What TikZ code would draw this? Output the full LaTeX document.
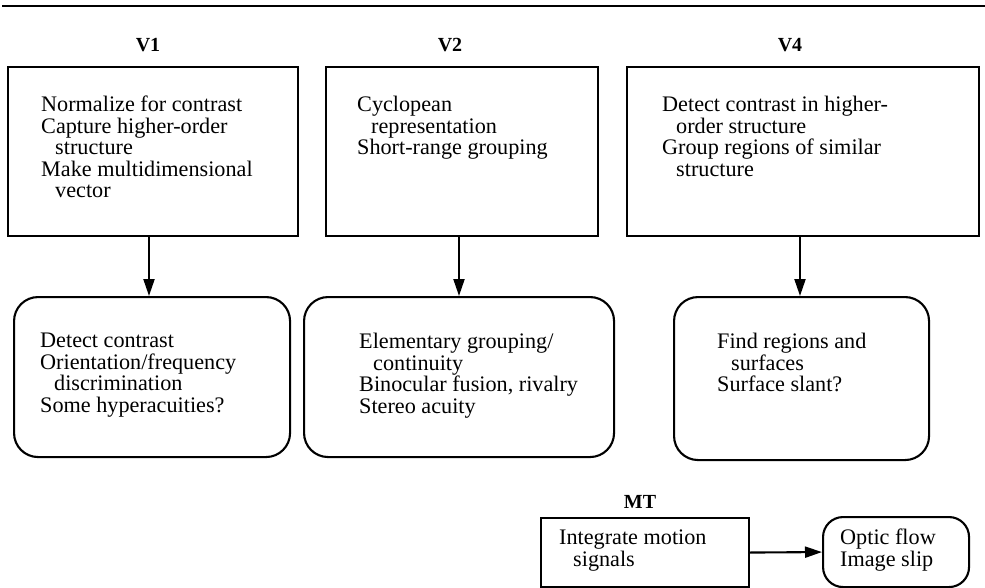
\documentclass[tikz,border=0pt]{standalone}
\usepackage{fontspec}
\setmainfont{Liberation Serif}
\usetikzlibrary{arrows.meta}
\newcommand{\ind}{\hspace*{14pt}}
\begin{document}
\begin{tikzpicture}[x=1pt,y=-1pt,
 box/.style={draw,line width=2.1pt,inner sep=0pt,anchor=north west},
 rbox/.style={box,rounded corners=24pt},
 txt/.style={anchor=north west,inner sep=0pt,align=left,font=\fontsize{22.2}{21.5}\selectfont},
 lbl/.style={font=\fontsize{20}{20}\selectfont\bfseries,inner sep=0pt},
 arr/.style={line width=2.1pt,-{Triangle[length=17pt,width=11pt]}}]
\useasboundingbox (0,0) rectangle (985,588);
\draw[line width=2.8pt] (2,6) -- (985,6);
% labels
\node[lbl] (l1) at (148,45) {V1};
\node[lbl] (l2) at (450,45) {V2};
\node[lbl] (l4) at (790,45) {V4};
\node[lbl] (lmt) at (640,502) {MT};
% top boxes
\node[box,minimum width=290pt,minimum height=169pt] (v1a) at (7,66) {};
\node[box,minimum width=272pt,minimum height=169pt] (v2a) at (325,66) {};
\node[box,minimum width=352pt,minimum height=169pt] (v4a) at (626,66) {};
% bottom boxes
\node[rbox,minimum width=276pt,minimum height=160pt] (v1b) at (13,296) {};
\node[rbox,minimum width=310pt,minimum height=160pt] (v2b) at (303,296) {};
\node[rbox,minimum width=255pt,minimum height=163pt] (v4b) at (673,296) {};
% MT
\node[box,minimum width=208pt,minimum height=69pt] (mta) at (540,517) {};
\node[box,rounded corners=20pt,minimum width=146pt,minimum height=70pt] (mtb) at (822,516) {};
% texts
\node[txt] (t1a) at (41,96) {Normalize for contrast\\Capture higher-order\\\ind structure\\Make multidimensional\\\ind vector};
\node[txt] (t2a) at (357,96) {Cyclopean\\\ind representation\\Short-range grouping};
\node[txt] (t4a) at (662,96) {Detect contrast in higher-\\\ind order structure\\Group regions of similar\\\ind structure};
\node[txt] (t1b) at (40,333) {Detect contrast\\Orientation/frequency\\\ind discrimination\\Some hyperacuities?};
\node[txt] (t2b) at (359,333) {Elementary grouping/\\\ind continuity\\Binocular fusion, rivalry\\Stereo acuity};
\node[txt] (t4b) at (717,333) {Find regions and\\\ind surfaces\\Surface slant?};
\node[txt] (tma) at (559,530) {Integrate motion\\\ind signals};
\node[txt] (tmb) at (840,529) {Optic flow\\Image slip};
% arrows
\draw[arr] (149,0 |- v1a.south) -- (149,0 |- v1b.north);
\draw[arr] (459,0 |- v2a.south) -- (459,0 |- v2b.north);
\draw[arr] (800,0 |- v4a.south) -- (800,0 |- v4b.north);
\draw[arr] (mta.east) -- (mtb.west);
\end{tikzpicture}
\end{document}
